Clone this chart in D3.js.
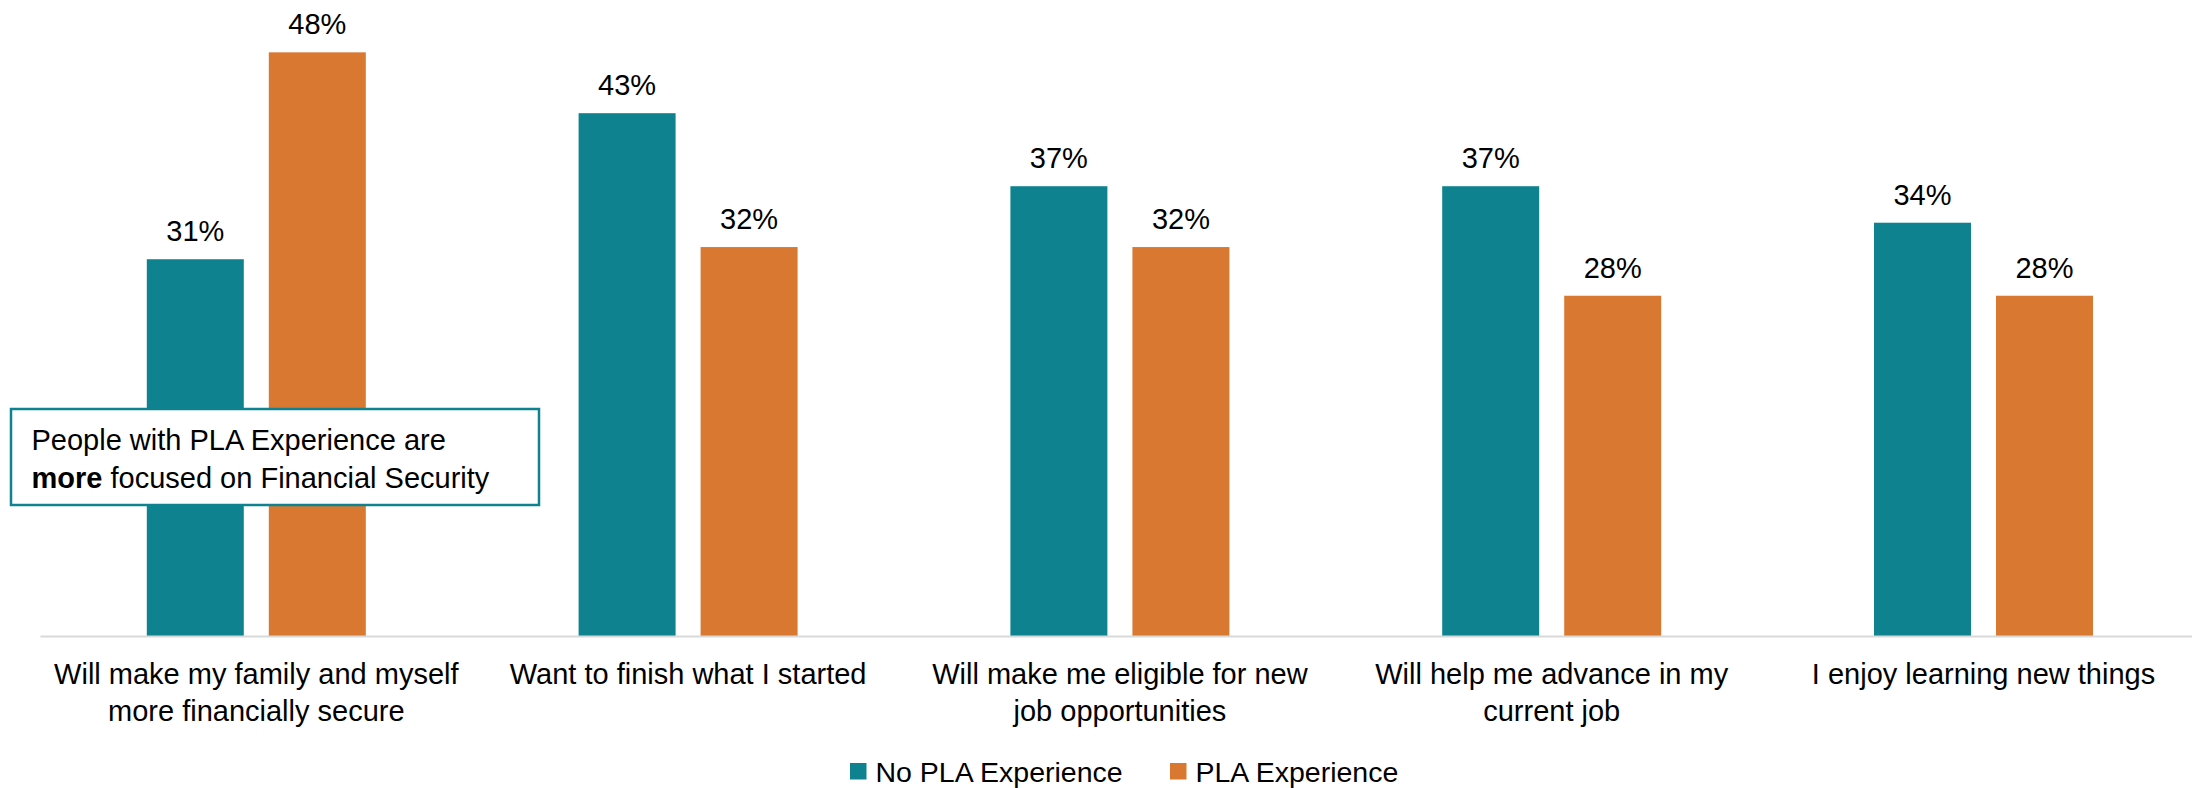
<!DOCTYPE html>
<html lang="en">

<head>
  <meta charset="UTF-8">
  <title>PLA motivations</title>
  <style>
    * {
      box-sizing: border-box;
    }

    body {
      margin: 0;
      background: #fff;
    }

    #main {
      width: 2192px;
      height: 788px;
    }

    text {
      font-family: "Liberation Sans", Arial, sans-serif;
      fill: #000;
    }
  </style>
</head>

<body>
  <div id="main"></div>
  <script src="https://d3js.org/d3.v7.min.js"></script>
  <script>
    // 1. data
    const categories = [
      'Will make my family and myself\nmore financially secure',
      'Want to finish what I started',
      'Will make me eligible for new\njob opportunities',
      'Will help me advance in my\ncurrent job',
      'I enjoy learning new things'
    ]
    const seriesNames = ['No PLA Experience', 'PLA Experience']
    const noPla = [31, 43, 37, 37, 34]
    const pla = [48, 32, 32, 28, 28]
    const colors = ['#0e838f', '#d97831']

    // 2. container
    const [width, height] = [2192, 788]
    const svg = d3.select('#main').append('svg')
      .attr('xmlns', 'http://www.w3.org/2000/svg')
      .attr('width', width)
      .attr('height', height)
      .attr('viewBox', `0 0 ${width} ${height}`)

    // 3. scales
    const x0 = d3.scaleBand()
      .domain(categories)
      .range([40.4, 2199.4])

    // two bars per group, 97px wide with a 25px gap
    const groupW = 219
    const x1 = d3.scaleBand()
      .domain(seriesNames)
      .range([(x0.bandwidth() - groupW) / 2, (x0.bandwidth() + groupW) / 2])
      .paddingInner(0.205)

    const y = d3.scaleLinear()
      .domain([0, 50])
      .range([636.5, 28])

    const color = d3.scaleOrdinal().domain(seriesNames).range(colors)

    const rows = categories.map((c, i) => ({
      cat: c,
      values: [
        { key: seriesNames[0], v: noPla[i] },
        { key: seriesNames[1], v: pla[i] }
      ]
    }))

    // 4. bars + value labels
    const groups = svg.append('g').selectAll('g')
      .data(rows)
      .join('g')
      .attr('transform', d => `translate(${x0(d.cat)},0)`)

    groups.selectAll('rect')
      .data(d => d.values)
      .join('rect')
      .attr('x', d => x1(d.key))
      .attr('y', d => y(d.v))
      .attr('width', x1.bandwidth())
      .attr('height', d => y(0) - y(d.v))
      .attr('fill', d => color(d.key))

    groups.selectAll('text.val')
      .data(d => d.values)
      .join('text')
      .attr('class', 'val')
      .attr('x', d => x1(d.key) + x1.bandwidth() / 2)
      .attr('y', d => y(d.v) - 18)
      .attr('text-anchor', 'middle')
      .style('font-size', '29px')
      .text(d => d.v + '%')

    // 5. x axis (baseline + wrapped category labels)
    const xAxis = svg.append('g')
      .attr('transform', `translate(0,${y(0)})`)
      .call(d3.axisBottom(x0).tickSize(0).tickSizeOuter(0))

    xAxis.select('.domain')
      .attr('stroke', '#d9d9d9')
      .attr('stroke-width', 2)
      .attr('d', `M${x0.range()[0]},0H${width}`)

    xAxis.selectAll('.tick text').each(function (d) {
      const t = d3.select(this)
        .attr('y', 0)
        .attr('dy', null)
        .style('font-size', '29px')
        .style('font-family', '"Liberation Sans", Arial, sans-serif')
        .attr('fill', '#000')
        .text(null)
      d.split('\n').forEach((line, i) => {
        t.append('tspan')
          .attr('x', 0)
          .attr('y', 47.5 + i * 36.5)
          .text(line)
      })
    })

    // 6. legend
    const legend = svg.append('g').attr('transform', 'translate(850,763)')
    const legendX = [0, 320]
    seriesNames.forEach((name, i) => {
      const g = legend.append('g').attr('transform', `translate(${legendX[i]},0)`)
      g.append('rect')
        .attr('width', 16.5)
        .attr('height', 16.5)
        .attr('fill', colors[i])
      g.append('text')
        .attr('x', 25.5)
        .attr('y', 18.7)
        .style('font-size', '28.5px')
        .text(name)
    })

    // 7. annotation box
    const note = svg.append('g')
    note.append('rect')
      .attr('x', 11)
      .attr('y', 409)
      .attr('width', 528)
      .attr('height', 96)
      .attr('fill', '#fff')
      .attr('stroke', '#0e838f')
      .attr('stroke-width', 2.5)
    const noteText = note.append('text')
      .attr('x', 31.5)
      .attr('y', 450)
      .style('font-size', '29px')
    noteText.append('tspan').text('People with PLA Experience are')
    noteText.append('tspan')
      .attr('x', 31.5)
      .attr('y', 487.5)
      .style('font-weight', 'bold')
      .text('more')
    noteText.append('tspan').text(' focused on Financial Security')
  </script>
</body>

</html>
